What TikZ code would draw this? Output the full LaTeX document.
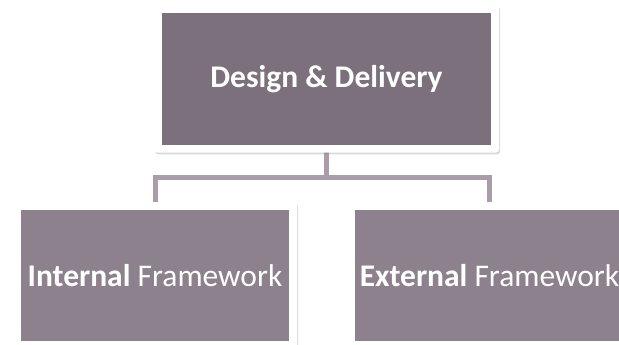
\documentclass[tikz,border=0pt]{standalone}
\usepackage{fontspec}
\setmainfont{Carlito}
\usetikzlibrary{shadows}
\definecolor{topfill}{HTML}{7C707C}
\definecolor{childfill}{HTML}{8D818D}
\definecolor{linkcol}{HTML}{A99DA9}
\begin{document}
\begin{tikzpicture}[x=1pt,y=-1pt,
  card/.style={rectangle, fill=white, rounded corners=3pt, inner sep=0pt,
    minimum width=#1, text=white,
    drop shadow={shadow xshift=1.2pt, shadow yshift=-1.8pt, opacity=0.25, fill=black!60},
    path picture={\fill[sharp corners, cardfill]
      ([shift={(8pt,-8pt)}]path picture bounding box.north west) rectangle
      ([shift={(-8pt,8pt)}]path picture bounding box.south east);}},
  cardfill/.style={fill=topfill},
  link/.style={draw=linkcol, line width=5pt, line join=miter}]
  \useasboundingbox[fill=white] (0,0) rectangle (619,345);

  % connectors run underneath the cards
  \coordinate (hub) at (326.5,177);
  \coordinate (lt) at (155,202);
  \coordinate (rt) at (489.5,202);
  \draw[link] (326.5,150) -- (hub);
  \draw[link] (lt) -- (155,177) -- (489.5,177) -- (rt);

  % top card
  \node[card=345pt, minimum height=147pt, font=\fontsize{31.5}{38}\selectfont\bfseries]
    (top) at (326.5,79) {Design \& Delivery};

  % child cards
  \begin{scope}[cardfill/.style={fill=childfill}]
    \node[card=284pt, minimum height=147pt, font=\fontsize{31.5}{38}\selectfont]
      (internal) at (155,275.5) {\textbf{Internal} Framework};
    \node[card=285pt, minimum height=147pt, font=\fontsize{31.5}{38}\selectfont]
      (external) at (489.5,275.5) {\textbf{External} Framework};
  \end{scope}
\end{tikzpicture}
\end{document}
